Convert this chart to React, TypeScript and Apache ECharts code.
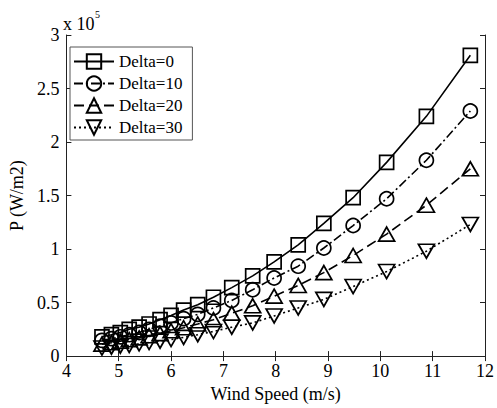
import React, { useEffect, useRef } from "react";
import * as echarts from "echarts";

// Wind speed (m/s) for each computed point
const windSpeed = [4.68, 4.86, 5.03, 5.2, 5.39, 5.58, 5.79, 6.0, 6.24, 6.51, 6.81, 7.16, 7.56, 7.97, 8.43, 8.92, 9.48, 10.12, 10.88, 11.72];
// Power density P in units of 10^5 W/m2
const pDelta0 = [0.18, 0.2, 0.22, 0.25, 0.27, 0.3, 0.34, 0.38, 0.43, 0.48, 0.55, 0.64, 0.75, 0.88, 1.04, 1.24, 1.48, 1.81, 2.24, 2.81];
const pDelta10 = [0.147, 0.163, 0.18, 0.2, 0.22, 0.25, 0.28, 0.31, 0.35, 0.39, 0.45, 0.52, 0.62, 0.73, 0.84, 1.01, 1.22, 1.47, 1.83, 2.29];
const pDelta20 = [0.112, 0.125, 0.139, 0.153, 0.17, 0.19, 0.21, 0.237, 0.265, 0.3, 0.34, 0.4, 0.47, 0.56, 0.66, 0.78, 0.94, 1.14, 1.41, 1.75];
const pDelta30 = [0.075, 0.083, 0.093, 0.1, 0.115, 0.127, 0.14, 0.155, 0.175, 0.2, 0.23, 0.27, 0.31, 0.375, 0.45, 0.53, 0.65, 0.79, 0.98, 1.23];

const seriesNames = ["Delta=0", "Delta=10", "Delta=20", "Delta=30"];
const xTicks = { min: 4, max: 12, interval: 1 };
const yTicks = { min: 0, max: 3, interval: 0.5 };

const FONT = "Liberation Serif";

export default function App() {
  const ref = useRef<HTMLDivElement>(null);
  useEffect(() => {
    if (!ref.current) return;
    const chart = echarts.init(ref.current, null, { renderer: "svg" });
    const mk = (ys: number[]) => windSpeed.map((x, i) => [x, ys[i]]);
    const styles = [
      { symbol: "rect", size: 14, rotate: 0, type: "solid" as any },
      { symbol: "circle", size: 14, rotate: 0, type: [9, 3, 2, 3] },
      { symbol: "triangle", size: [16, 14], rotate: 0, type: [10, 5] },
      { symbol: "triangle", size: [16, 14], rotate: 180, type: [2, 3] },
    ];
    const datasets = [pDelta0, pDelta10, pDelta20, pDelta30];
    const axisCommon = {
      axisLine: { show: true, lineStyle: { color: "#222", width: 1 } },
      axisTick: { show: true, inside: true, length: 5, lineStyle: { color: "#222" } },
      splitLine: { show: false },
    };
    chart.setOption({
      animation: false,
      backgroundColor: "#fff",
      textStyle: { fontFamily: FONT },
      grid: { left: 64, right: 12, top: 35, bottom: 43, containLabel: false },
      legend: {
        left: 70,
        top: 47,
        orient: "vertical",
        itemWidth: 40,
        itemHeight: 18,
        itemGap: 5,
        padding: [6, 10, 4, 3],
        borderColor: "#555",
        borderWidth: 1,
        backgroundColor: "#fff",
        textStyle: { fontFamily: FONT, fontSize: 17, color: "#000" },
        data: seriesNames,
      },
      xAxis: [
        {
          type: "value",
          ...xTicks,
          position: "bottom",
          name: "Wind Speed (m/s)",
          nameLocation: "middle",
          nameGap: 24,
          nameTextStyle: { fontFamily: FONT, fontSize: 18, color: "#000" },
          axisLabel: { fontFamily: FONT, fontSize: 18, color: "#000", margin: 6 },
          ...axisCommon,
        },
        {
          type: "value",
          ...xTicks,
          position: "top",
          axisLabel: { show: false },
          ...axisCommon,
        },
      ],
      yAxis: [
        {
          type: "value",
          ...yTicks,
          position: "left",
          name: "P (W/m2)",
          nameLocation: "middle",
          nameGap: 28,
          nameTextStyle: { fontFamily: FONT, fontSize: 18, color: "#000" },
          axisLabel: { fontFamily: FONT, fontSize: 18, color: "#000", margin: 7 },
          ...axisCommon,
        },
        {
          type: "value",
          ...yTicks,
          position: "right",
          axisLabel: { show: false },
          ...axisCommon,
        },
      ],
      graphic: [
        {
          type: "text",
          x: 63,
          y: 24,
          style: { text: "x 10", font: `18px "${FONT}"`, fill: "#000", verticalAlign: "middle", align: "left" },
        },
        {
          type: "text",
          x: 95,
          y: 14,
          style: { text: "5", font: `10px "${FONT}"`, fill: "#000", verticalAlign: "middle", align: "left" },
        },
      ],
      series: datasets.map((ys, k) => ({
        name: seriesNames[k],
        type: "line",
        data: mk(ys),
        symbol: styles[k].symbol,
        symbolSize: styles[k].size,
        symbolRotate: styles[k].rotate,
        showSymbol: true,
        showAllSymbol: true,
        itemStyle: { color: "transparent", borderColor: "#000", borderWidth: 1.7 },
        lineStyle: { color: "#000", width: 1.6, type: styles[k].type },
        emphasis: { disabled: true },
      })),
    });
    return () => chart.dispose();
  }, []);
  return (
    <div
      ref={ref}
      style={{ position: "fixed", left: 0, top: 0, width: 497, height: 408 }}
    />
  );
}
